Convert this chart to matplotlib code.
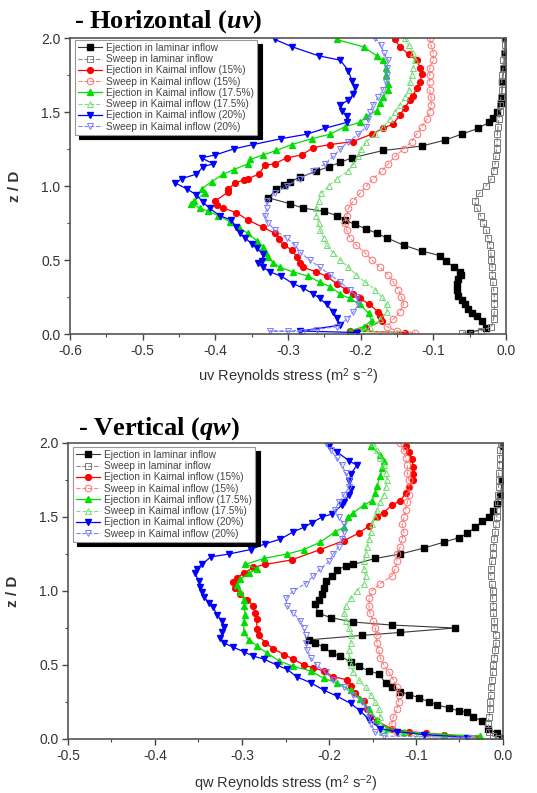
import matplotlib
matplotlib.use('Agg')
import matplotlib.pyplot as plt
from matplotlib.ticker import MultipleLocator

plt.rcParams['font.family'] = ['Liberation Sans', 'DejaVu Sans']
plt.rcParams['mathtext.fontset'] = 'custom'
plt.rcParams['mathtext.rm'] = 'Liberation Sans'
plt.rcParams['mathtext.it'] = 'Liberation Serif:italic:bold'

LABELS = ["Ejection in laminar inflow", "Sweep in laminar inflow",
          "Ejection in Kaimal inflow (15%)", "Sweep in Kaimal inflow (15%)",
          "Ejection in Kaimal inflow (17.5%)", "Sweep in Kaimal inflow (17.5%)",
          "Ejection in Kaimal inflow (20%)", "Sweep in Kaimal inflow (20%)"]

# shared z levels for the densely sampled sweep profiles
Z_GRID = [2.0, 1.95, 1.9, 1.85, 1.8, 1.75, 1.7, 1.65, 1.6, 1.55,
          1.5, 1.45, 1.4, 1.35, 1.3, 1.25, 1.2, 1.15, 1.1, 1.05,
          1.0, 0.95, 0.9, 0.85, 0.8, 0.75, 0.7, 0.65, 0.6, 0.55,
          0.5, 0.45, 0.4, 0.35, 0.3, 0.25, 0.2, 0.15, 0.1, 0.05]

# ---------------- Horizontal (uv) ----------------
UV_EJ_LAM_Z = [2.0, 1.9, 1.8, 1.7, 1.6, 1.56, 1.50, 1.46, 1.43, 1.39, 1.35, 1.31, 1.27, 1.24, 1.19,
               1.16, 1.13, 1.10, 1.06, 1.03, 1.01, 0.98, 0.92, 0.88, 0.85, 0.83, 0.80, 0.77, 0.74,
               0.71, 0.68, 0.65, 0.60, 0.56, 0.53, 0.49, 0.45, 0.42, 0.40, 0.37, 0.34, 0.30, 0.26,
               0.23, 0.20, 0.17, 0.14, 0.12, 0.09, 0.04, 0.01]
UV_EJ_LAM_X = [-0.001, -0.002, -0.003, -0.005, -0.006, -0.007, -0.013, -0.018, -0.024, -0.038, -0.061,
               -0.084, -0.116, -0.169, -0.212, -0.228, -0.244, -0.261, -0.283, -0.297, -0.306, -0.316,
               -0.327, -0.297, -0.279, -0.251, -0.233, -0.221, -0.208, -0.192, -0.178, -0.164, -0.141,
               -0.116, -0.091, -0.082, -0.072, -0.063, -0.062, -0.066, -0.068, -0.068, -0.066, -0.061,
               -0.056, -0.052, -0.047, -0.040, -0.033, -0.027, -0.050]
UV_SW_LAM_X = [-0.001, -0.002, -0.003, -0.004, -0.004, -0.005, -0.006, -0.006, -0.007, -0.008,
               -0.008, -0.010, -0.011, -0.012, -0.012, -0.013, -0.014, -0.015, -0.017, -0.020,
               -0.028, -0.037, -0.043, -0.040, -0.035, -0.031, -0.027, -0.025, -0.022, -0.021,
               -0.020, -0.019, -0.019, -0.018, -0.017, -0.016, -0.016, -0.016, -0.017, -0.020]
UV_SW_LAM_BZ = [0.02, 0.01]
UV_SW_LAM_BX = [-0.035, -0.060]

UV_EJ15_Z = [1.99, 1.94, 1.89, 1.85, 1.80, 1.76, 1.70, 1.66, 1.61, 1.58, 1.53, 1.48, 1.42, 1.39, 1.35,
             1.30, 1.28, 1.26, 1.21, 1.19, 1.15, 1.14, 1.08, 1.05, 1.04, 1.02, 0.98, 0.96, 0.90, 0.87,
             0.85, 0.82, 0.77, 0.72, 0.68, 0.64, 0.60, 0.57, 0.52, 0.48, 0.45, 0.42, 0.39, 0.34, 0.30,
             0.27, 0.24, 0.20, 0.15, 0.12, 0.09, 0.04, 0.02, 0.01]
UV_EJ15_X = [-0.153, -0.146, -0.134, -0.123, -0.118, -0.116, -0.118, -0.123, -0.128, -0.132, -0.139,
             -0.146, -0.155, -0.169, -0.185, -0.211, -0.242, -0.265, -0.281, -0.302, -0.318, -0.332,
             -0.340, -0.355, -0.361, -0.373, -0.382, -0.382, -0.400, -0.398, -0.389, -0.371, -0.355,
             -0.334, -0.318, -0.312, -0.306, -0.295, -0.288, -0.284, -0.279, -0.261, -0.247, -0.233,
             -0.220, -0.210, -0.201, -0.188, -0.176, -0.173, -0.171, -0.192, -0.215, -0.139]
UV_SW15_X = [-0.105, -0.103, -0.100, -0.100, -0.105, -0.105, -0.105, -0.105, -0.103, -0.103,
             -0.105, -0.109, -0.116, -0.123, -0.130, -0.141, -0.153, -0.162, -0.171, -0.183,
             -0.192, -0.201, -0.210, -0.217, -0.219, -0.222, -0.219, -0.215, -0.206, -0.194,
             -0.185, -0.173, -0.162, -0.155, -0.148, -0.144, -0.141, -0.146, -0.155, -0.164]
UV_SW15_BZ = [0.02, 0.01]
UV_SW15_BX = [-0.150, -0.125]

UV_EJ175_Z = [1.99, 1.94, 1.88, 1.85, 1.80, 1.75, 1.69, 1.65, 1.60, 1.56, 1.51, 1.47, 1.43, 1.40, 1.35,
              1.32, 1.28, 1.24, 1.21, 1.18, 1.15, 1.11, 1.08, 1.03, 0.98, 0.95, 0.90, 0.88, 0.85, 0.83,
              0.80, 0.76, 0.72, 0.68, 0.63, 0.59, 0.55, 0.52, 0.48, 0.45, 0.42, 0.39, 0.35, 0.32, 0.27,
              0.24, 0.20, 0.14, 0.09, 0.05, 0.02]
UV_EJ175_X = [-0.233, -0.196, -0.178, -0.169, -0.165, -0.165, -0.163, -0.163, -0.169, -0.174, -0.178,
              -0.192, -0.201, -0.222, -0.242, -0.267, -0.295, -0.316, -0.334, -0.352, -0.355, -0.375,
              -0.389, -0.405, -0.419, -0.414, -0.430, -0.433, -0.421, -0.410, -0.396, -0.380, -0.368,
              -0.355, -0.343, -0.334, -0.330, -0.327, -0.320, -0.311, -0.293, -0.272, -0.256, -0.242,
              -0.228, -0.215, -0.201, -0.189, -0.185, -0.196, -0.215]
UV_SW175_X = [-0.139, -0.134, -0.128, -0.125, -0.128, -0.130, -0.132, -0.134, -0.139, -0.146,
              -0.153, -0.160, -0.169, -0.180, -0.192, -0.199, -0.203, -0.210, -0.217, -0.233,
              -0.244, -0.254, -0.258, -0.261, -0.261, -0.258, -0.256, -0.251, -0.247, -0.238,
              -0.228, -0.217, -0.206, -0.194, -0.180, -0.171, -0.164, -0.164, -0.173, -0.187]
UV_SW175_BZ = [0.02, 0.01]
UV_SW175_BX = [-0.200, -0.150]

UV_EJ20_Z = [1.99, 1.94, 1.88, 1.85, 1.78, 1.71, 1.67, 1.62, 1.58, 1.55, 1.51, 1.47, 1.43, 1.39, 1.35,
             1.32, 1.28, 1.25, 1.21, 1.19, 1.15, 1.13, 1.08, 1.05, 1.02, 0.98, 0.94, 0.89, 0.85, 0.80,
             0.77, 0.72, 0.68, 0.65, 0.61, 0.58, 0.54, 0.49, 0.48, 0.45, 0.42, 0.39, 0.34, 0.31, 0.27,
             0.24, 0.20, 0.15, 0.11, 0.06, 0.02, 0.01]
UV_EJ20_X = [-0.318, -0.294, -0.258, -0.228, -0.217, -0.212, -0.208, -0.210, -0.217, -0.228, -0.226,
             -0.219, -0.219, -0.249, -0.274, -0.309, -0.348, -0.375, -0.400, -0.419, -0.403, -0.417,
             -0.426, -0.446, -0.455, -0.439, -0.426, -0.417, -0.408, -0.394, -0.378, -0.371, -0.366,
             -0.359, -0.350, -0.343, -0.334, -0.336, -0.341, -0.334, -0.325, -0.309, -0.293, -0.279,
             -0.265, -0.256, -0.247, -0.238, -0.233, -0.228, -0.283, -0.205]
UV_SW20_X = [-0.180, -0.172, -0.168, -0.162, -0.164, -0.164, -0.165, -0.169, -0.176, -0.183,
             -0.187, -0.190, -0.192, -0.203, -0.217, -0.228, -0.238, -0.249, -0.265, -0.283,
             -0.302, -0.318, -0.329, -0.329, -0.332, -0.327, -0.318, -0.302, -0.290, -0.283,
             -0.270, -0.256, -0.242, -0.228, -0.215, -0.205, -0.203, -0.210, -0.219, -0.233]
UV_SW20_BZ = [0.03, 0.02, 0.02, 0.015]
UV_SW20_BX = [-0.260, -0.300, -0.325, -0.280]

# ---------------- Vertical (qw) ----------------
QW_EJ_LAM_Z = [1.98, 1.74, 1.65, 1.59, 1.54, 1.50, 1.47, 1.43, 1.39, 1.36, 1.33, 1.29, 1.25, 1.22, 1.18,
               1.17, 1.14, 1.10, 1.07, 1.02, 0.98, 0.94, 0.91, 0.85, 0.82, 0.79, 0.77, 0.75, 0.72, 0.70,
               0.67, 0.65, 0.62, 0.58, 0.56, 0.52, 0.49, 0.46, 0.44, 0.38, 0.35, 0.32, 0.30, 0.28, 0.25,
               0.23, 0.21, 0.19, 0.18, 0.15, 0.12, 0.07, 0.04, 0.01]
QW_EJ_LAM_X = [0.000, -0.001, -0.003, -0.007, -0.011, -0.016, -0.024, -0.032, -0.041, -0.051, -0.068,
               -0.091, -0.118, -0.147, -0.172, -0.181, -0.191, -0.197, -0.204, -0.206, -0.208, -0.212,
               -0.216, -0.212, -0.198, -0.172, -0.128, -0.055, -0.118, -0.162, -0.223, -0.216, -0.206,
               -0.197, -0.187, -0.175, -0.166, -0.154, -0.143, -0.135, -0.128, -0.118, -0.108, -0.097,
               -0.085, -0.076, -0.062, -0.051, -0.041, -0.034, -0.024, -0.017, -0.007, -0.001]
QW_SW_LAM_X = [-0.002, -0.003, -0.004, -0.004, -0.005, -0.005, -0.005, -0.006, -0.006, -0.007,
               -0.007, -0.008, -0.009, -0.010, -0.011, -0.012, -0.013, -0.014, -0.014, -0.013,
               -0.012, -0.012, -0.011, -0.011, -0.010, -0.010, -0.008, -0.008, -0.009, -0.010,
               -0.011, -0.012, -0.013, -0.014, -0.014, -0.015, -0.015, -0.016, -0.017, -0.016]
QW_SW_LAM_BZ = [0.02, 0.01]
QW_SW_LAM_BX = [-0.012, -0.006]

QW_EJ15_Z = [1.98, 1.94, 1.89, 1.84, 1.79, 1.75, 1.70, 1.66, 1.61, 1.58, 1.53, 1.50, 1.44, 1.39, 1.34,
             1.28, 1.21, 1.18, 1.16, 1.12, 1.09, 1.06, 1.02, 0.98, 0.94, 0.90, 0.85, 0.81, 0.74, 0.70,
             0.65, 0.61, 0.57, 0.54, 0.50, 0.48, 0.46, 0.42, 0.40, 0.36, 0.31, 0.26, 0.20, 0.15, 0.12,
             0.07, 0.05, 0.04, 0.03, 0.01]
QW_EJ15_X = [-0.112, -0.108, -0.105, -0.103, -0.103, -0.103, -0.108, -0.112, -0.118, -0.128, -0.137,
             -0.145, -0.154, -0.166, -0.183, -0.210, -0.243, -0.273, -0.287, -0.298, -0.306, -0.310,
             -0.308, -0.302, -0.294, -0.287, -0.285, -0.283, -0.283, -0.281, -0.273, -0.264, -0.252,
             -0.241, -0.229, -0.218, -0.206, -0.195, -0.179, -0.175, -0.170, -0.160, -0.156, -0.153,
             -0.145, -0.128, -0.108, -0.089, -0.068, -0.030]
QW_SW15_X = [-0.118, -0.114, -0.112, -0.110, -0.110, -0.108, -0.108, -0.108, -0.110, -0.112,
             -0.114, -0.116, -0.114, -0.116, -0.118, -0.122, -0.122, -0.124, -0.128, -0.141,
             -0.151, -0.154, -0.154, -0.153, -0.149, -0.147, -0.145, -0.145, -0.143, -0.141,
             -0.137, -0.131, -0.126, -0.122, -0.120, -0.120, -0.122, -0.126, -0.128, -0.122]
QW_SW15_BZ = [0.02, 0.01]
QW_SW15_BX = [-0.080, -0.030]

QW_EJ175_Z = [1.98, 1.92, 1.88, 1.83, 1.78, 1.71, 1.66, 1.61, 1.58, 1.53, 1.50, 1.43, 1.40, 1.33, 1.28,
              1.25, 1.22, 1.18, 1.15, 1.12, 1.08, 1.04, 0.99, 0.94, 0.90, 0.84, 0.79, 0.72, 0.67, 0.63,
              0.58, 0.53, 0.49, 0.46, 0.41, 0.38, 0.33, 0.27, 0.20, 0.13, 0.07, 0.05, 0.03, 0.02]
QW_EJ175_X = [-0.152, -0.141, -0.137, -0.139, -0.141, -0.145, -0.147, -0.151, -0.160, -0.172, -0.178,
              -0.183, -0.193, -0.210, -0.229, -0.248, -0.275, -0.296, -0.283, -0.292, -0.302, -0.306,
              -0.302, -0.298, -0.298, -0.296, -0.298, -0.298, -0.292, -0.283, -0.271, -0.258, -0.241,
              -0.221, -0.206, -0.191, -0.175, -0.164, -0.154, -0.145, -0.133, -0.114, -0.068, -0.026]
QW_SW175_X = [-0.149, -0.145, -0.141, -0.137, -0.135, -0.133, -0.135, -0.137, -0.141, -0.145,
              -0.147, -0.151, -0.152, -0.154, -0.156, -0.158, -0.160, -0.160, -0.158, -0.160,
              -0.168, -0.175, -0.181, -0.183, -0.181, -0.177, -0.175, -0.175, -0.177, -0.177,
              -0.175, -0.172, -0.166, -0.158, -0.152, -0.147, -0.143, -0.141, -0.141, -0.139]
QW_SW175_BZ = [0.02, 0.01]
QW_SW175_BX = [-0.099, -0.034]

QW_EJ20_Z = [1.98, 1.94, 1.88, 1.85, 1.79, 1.74, 1.69, 1.65, 1.60, 1.58, 1.52, 1.50, 1.46, 1.43, 1.40,
             1.35, 1.32, 1.28, 1.25, 1.23, 1.18, 1.15, 1.12, 1.07, 1.03, 0.99, 0.96, 0.92, 0.89, 0.84,
             0.80, 0.76, 0.72, 0.68, 0.65, 0.62, 0.59, 0.56, 0.54, 0.50, 0.47, 0.42, 0.38, 0.33, 0.29,
             0.24, 0.19, 0.13, 0.07, 0.05, 0.03, 0.01]
QW_EJ20_X = [-0.200, -0.191, -0.177, -0.168, -0.175, -0.177, -0.175, -0.177, -0.183, -0.185, -0.197,
             -0.208, -0.220, -0.229, -0.241, -0.256, -0.273, -0.290, -0.315, -0.336, -0.346, -0.352,
             -0.354, -0.350, -0.348, -0.346, -0.344, -0.338, -0.333, -0.329, -0.323, -0.321, -0.323,
             -0.325, -0.321, -0.310, -0.298, -0.287, -0.275, -0.260, -0.248, -0.237, -0.221, -0.206,
             -0.191, -0.175, -0.164, -0.154, -0.141, -0.122, -0.091, -0.041]
QW_SW20_X = [-0.204, -0.198, -0.191, -0.185, -0.181, -0.177, -0.177, -0.183, -0.189, -0.193,
             -0.189, -0.183, -0.183, -0.185, -0.189, -0.195, -0.200, -0.210, -0.218, -0.227,
             -0.241, -0.250, -0.248, -0.241, -0.233, -0.229, -0.227, -0.227, -0.225, -0.221,
             -0.214, -0.204, -0.195, -0.183, -0.172, -0.162, -0.156, -0.154, -0.152, -0.147]
QW_SW20_BZ = [0.02, 0.01]
QW_SW20_BX = [-0.137, -0.037]

STYLES = [
    dict(color='#3a3a3a', marker='s', mfc='black', mec='black', ms=3.8, ls='-', lw=0.8),
    dict(color='#8a8a8a', marker='s', mfc='none', mec='#7a7a7a', ms=4.3, ls='--', lw=0.8, mew=0.7),
    dict(color='#ff0000', marker='o', mfc='#ff0000', mec='#ff0000', ms=4.2, ls='-', lw=0.9),
    dict(color='#ff8080', marker='o', mfc='none', mec='#ff7070', ms=4.8, ls='--', lw=0.8, mew=0.7),
    dict(color='#00dd00', marker='^', mfc='#00dd00', mec='#00dd00', ms=4.5, ls='-', lw=0.9),
    dict(color='#80e080', marker='^', mfc='none', mec='#70dd70', ms=5.0, ls='--', lw=0.8, mew=0.7),
    dict(color='#0000ff', marker='v', mfc='#0000ff', mec='#0000ff', ms=4.5, ls='-', lw=0.9),
    dict(color='#8080ff', marker='v', mfc='none', mec='#7a7aff', ms=5.0, ls='--', lw=0.8, mew=0.7),
]

fig = plt.figure(figsize=(5.37, 7.93), dpi=100)
W, H = 537.0, 793.0


def make_axes(left, right, top, bottom):
    return fig.add_axes([left / W, 1 - bottom / H, (right - left) / W, (bottom - top) / H])


def style_axes(ax, xmin, xlabel, leg_dx, leg_dy):
    ax.set_xlim(xmin, 0.0)
    ax.set_ylim(0.0, 2.0)
    ax.xaxis.set_major_locator(MultipleLocator(0.1))
    ax.xaxis.set_minor_locator(MultipleLocator(0.05))
    ax.yaxis.set_major_locator(MultipleLocator(0.5))
    ax.yaxis.set_minor_locator(MultipleLocator(0.25))
    ax.xaxis.set_major_formatter(matplotlib.ticker.FormatStrFormatter('%.1f'))
    ax.yaxis.set_major_formatter(matplotlib.ticker.FormatStrFormatter('%.1f'))
    ax.tick_params(which='major', direction='out', length=4, width=1.0, colors='#444444',
                   labelsize=10, labelcolor='#333333', pad=3)
    ax.tick_params(which='minor', direction='out', length=2.5, width=0.8, colors='#444444')
    for sp in ax.spines.values():
        sp.set_color('#555555')
        sp.set_linewidth(1.2)
    ax.set_xlabel(xlabel, fontsize=10.5, color='#333333')
    ax.set_ylabel('z / D', fontsize=11, color='#333333', fontweight='bold')
    ax.yaxis.set_label_coords(-0.11, 0.5)
    leg = ax.legend(loc='upper left', bbox_to_anchor=(leg_dx, 1 - leg_dy), borderaxespad=0,
                    fontsize=7.3, frameon=True, fancybox=False, edgecolor='#999999',
                    framealpha=1, labelspacing=0.12, handlelength=2.4, handletextpad=0.4,
                    borderpad=0.3, labelcolor='#444444',
                    shadow={'ox': 3, 'oy': -3, 'color': 'black', 'alpha': 1})
    leg.get_frame().set_linewidth(0.8)
    return leg


def draw_panel(ax, data):
    for (x, z), st, lab in zip(data, STYLES, LABELS):
        ax.plot(x, z, label=lab, **st)


# ---- top panel ----
ax1 = make_axes(70, 506, 38, 334)
top_data = [
    (UV_EJ_LAM_X, UV_EJ_LAM_Z),
    (UV_SW_LAM_X + UV_SW_LAM_BX, Z_GRID + UV_SW_LAM_BZ),
    (UV_EJ15_X, UV_EJ15_Z),
    (UV_SW15_X + UV_SW15_BX, Z_GRID + UV_SW15_BZ),
    (UV_EJ175_X, UV_EJ175_Z),
    (UV_SW175_X + UV_SW175_BX, Z_GRID + UV_SW175_BZ),
    (UV_EJ20_X, UV_EJ20_Z),
    (UV_SW20_X + UV_SW20_BX, Z_GRID + UV_SW20_BZ),
]
draw_panel(ax1, top_data)
style_axes(ax1, -0.6, r'uv Reynolds stress (m$^{2}$ s$^{-2}$)', 5 / 436, 2 / 296)
ax1.xaxis.set_label_coords(0.5, -0.11)

# ---- bottom panel ----
ax2 = make_axes(68, 503, 443, 739)
bot_data = [
    (QW_EJ_LAM_X, QW_EJ_LAM_Z),
    (QW_SW_LAM_X + QW_SW_LAM_BX, Z_GRID + QW_SW_LAM_BZ),
    (QW_EJ15_X, QW_EJ15_Z),
    (QW_SW15_X + QW_SW15_BX, Z_GRID + QW_SW15_BZ),
    (QW_EJ175_X, QW_EJ175_Z),
    (QW_SW175_X + QW_SW175_BX, Z_GRID + QW_SW175_BZ),
    (QW_EJ20_X, QW_EJ20_Z),
    (QW_SW20_X + QW_SW20_BX, Z_GRID + QW_SW20_BZ),
]
draw_panel(ax2, bot_data)
style_axes(ax2, -0.5, r'qw Reynolds stress (m$^{2}$ s$^{-2}$)', 5 / 435, 4 / 296)
ax2.xaxis.set_label_coords(0.5, -0.115)

# titles
fig.text(74 / W, 1 - 28 / H, r'- Horizontal ($\mathit{uv}$)', family='Liberation Serif',
         fontweight='bold', fontsize=19, va='baseline', ha='left', color='black')
fig.text(78 / W, 1 - 435 / H, r'- Vertical ($\mathit{qw}$)', family='Liberation Serif',
         fontweight='bold', fontsize=19, va='baseline', ha='left', color='black')

fig.savefig('out.png', dpi=100)
